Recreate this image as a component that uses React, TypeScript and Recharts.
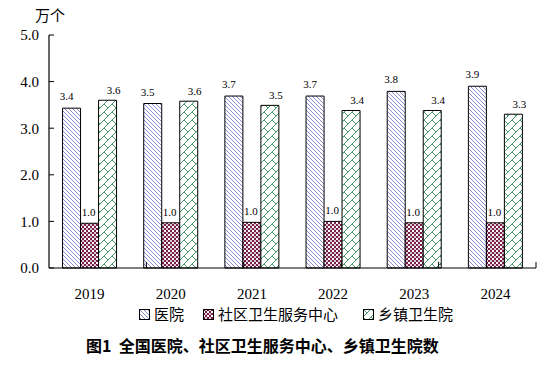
import React from "react";
import { BarChart, Bar, XAxis, YAxis, LabelList, ReferenceLine } from "recharts";

const years = ["2019", "2020", "2021", "2022", "2023", "2024"];
const hospital = [3.43, 3.53, 3.69, 3.69, 3.79, 3.9];
const community = [0.96, 0.97, 0.98, 1.0, 0.97, 0.97];
const township = [3.6, 3.58, 3.49, 3.38, 3.38, 3.3];
const yTicks = [0, 1, 2, 3, 4, 5];
const edgeTicks = [0, 1, 2, 3, 4, 5, 6];
const seriesNames = ["医院", "社区卫生服务中心", "乡镇卫生院"];
const unitLabel = "万个";
const title = "图1  全国医院、社区卫生服务中心、乡镇卫生院数";

const data = years.map((y, i) => ({
  year: y,
  hospital: hospital[i],
  community: community[i],
  township: township[i],
}));

const SERIF = "'Liberation Serif', 'DejaVu Serif', serif";
const CJK = "'Noto Sans CJK SC', sans-serif";

const makeLabel = (dx: number, dy: number) => (props: any) => {
  const { x, y, width, value } = props;
  return (
    <text
      x={Number(x) + Number(width) / 2 + dx}
      y={Number(y) - dy}
      textAnchor="middle"
      fontSize={11}
      fontFamily={SERIF}
      fill="#000"
    >
      {(Math.round(Number(value) * 10) / 10).toFixed(1)}
    </text>
  );
};

const Patterns = () => (
  <defs>
    <pattern id="pHosp" width="4" height="4" patternUnits="userSpaceOnUse">
      <rect width="4" height="4" fill="#fff" />
      <path d="M0,0 L4,4 M-1,3 L1,5 M3,-1 L5,1" stroke="#7070d0" strokeWidth="0.8" />
    </pattern>
    <pattern id="pComm" width="4" height="4" patternUnits="userSpaceOnUse">
      <rect width="4" height="4" fill="#fff" />
      <rect x="0" y="0" width="2" height="2" fill="#7a1f4c" />
      <rect x="2" y="2" width="2" height="2" fill="#7a1f4c" />
      <rect x="2" y="0" width="2" height="2" fill="#a0607e" opacity="0.35" />
    </pattern>
    <pattern id="pTown" width="8" height="8" patternUnits="userSpaceOnUse">
      <rect width="8" height="8" fill="#fff" />
      <path d="M0,8 L8,0 M-1,1 L1,-1 M7,9 L9,7 M0,0 L4,4" stroke="#2e8b57" strokeWidth="0.9" fill="none" />
    </pattern>
  </defs>
);

const LegendIcon = ({ fill }: { fill: string }) => (
  <svg width={11} height={11} style={{ display: "block" }}>
    <Patterns />
    <rect x={0.5} y={0.5} width={10} height={10} fill={fill} stroke="#000" strokeWidth={1} />
  </svg>
);

const EDGE_TICK_LEN = 0.13; // in value units (~6px)

export default function App() {
  const fills = ["url(#pHosp)", "url(#pComm)", "url(#pTown)"];
  const iconX = [139, 203, 363];
  return (
    <div style={{ position: "absolute", left: 0, top: 0, width: 553, height: 372, background: "#fff" }}>
      <BarChart
        width={553}
        height={372}
        data={data}
        margin={{ top: 35, right: 17, bottom: 74, left: 0 }}
        barCategoryGap="16.7%"
        barGap={0}
      >
        <Patterns />
        <XAxis
          dataKey="year"
          tickLine={false}
          axisLine={{ stroke: "#000", strokeWidth: 1.2 }}
          tick={{ fill: "#000", fontSize: 15, fontFamily: SERIF }}
          tickMargin={14}
          height={30}
          interval={0}
        />
        <XAxis
          xAxisId="edges"
          type="number"
          domain={[0, 6]}
          ticks={edgeTicks}
          hide
          allowDataOverflow
        />
        <YAxis
          domain={[0, 5]}
          ticks={yTicks}
          width={49}
          axisLine={{ stroke: "#000", strokeWidth: 1.2 }}
          tickLine={{ stroke: "#000", strokeWidth: 1 }}
          tickSize={-5}
          tickMargin={15}
          tickFormatter={(v: number) => v.toFixed(1)}
          tick={{ fill: "#000", fontSize: 15, fontFamily: SERIF }}
          interval={0}
        />
        {edgeTicks.slice(1).map((t) => (
          <ReferenceLine
            key={t}
            xAxisId="edges"
            segment={[
              { x: t, y: 0 },
              { x: t, y: EDGE_TICK_LEN },
            ]}
            stroke="#000"
            strokeWidth={1}
            ifOverflow="extendDomain"
          />
        ))}
        <Bar dataKey="hospital" fill={fills[0]} stroke="#000" strokeWidth={1} isAnimationActive={false}>
          <LabelList dataKey="hospital" content={makeLabel(-5, 8)} />
        </Bar>
        <Bar dataKey="community" fill={fills[1]} stroke="#000" strokeWidth={1} isAnimationActive={false}>
          <LabelList dataKey="community" content={makeLabel(-1, 7)} />
        </Bar>
        <Bar dataKey="township" fill={fills[2]} stroke="#000" strokeWidth={1} isAnimationActive={false}>
          <LabelList dataKey="township" content={makeLabel(6, 6)} />
        </Bar>
      </BarChart>
      <div
        style={{
          position: "absolute",
          left: 35,
          top: 6,
          fontFamily: CJK,
          fontSize: 15,
          lineHeight: "18px",
          color: "#000",
        }}
      >
        {unitLabel}
      </div>
      {seriesNames.map((name, i) => (
        <div
          key={name}
          style={{
            position: "absolute",
            left: iconX[i],
            top: 305,
            display: "flex",
            alignItems: "center",
            fontFamily: CJK,
            fontSize: 15,
            lineHeight: "18px",
            color: "#000",
            whiteSpace: "nowrap",
          }}
        >
          <LegendIcon fill={fills[i]} />
          <span style={{ marginLeft: 4 }}>{name}</span>
        </div>
      ))}
      <div
        style={{
          position: "absolute",
          left: 86,
          top: 335,
          fontFamily: CJK,
          fontWeight: "bold",
          fontSize: 16,
          lineHeight: "20px",
          color: "#000",
          whiteSpace: "pre",
        }}
      >
        {title}
      </div>
    </div>
  );
}
